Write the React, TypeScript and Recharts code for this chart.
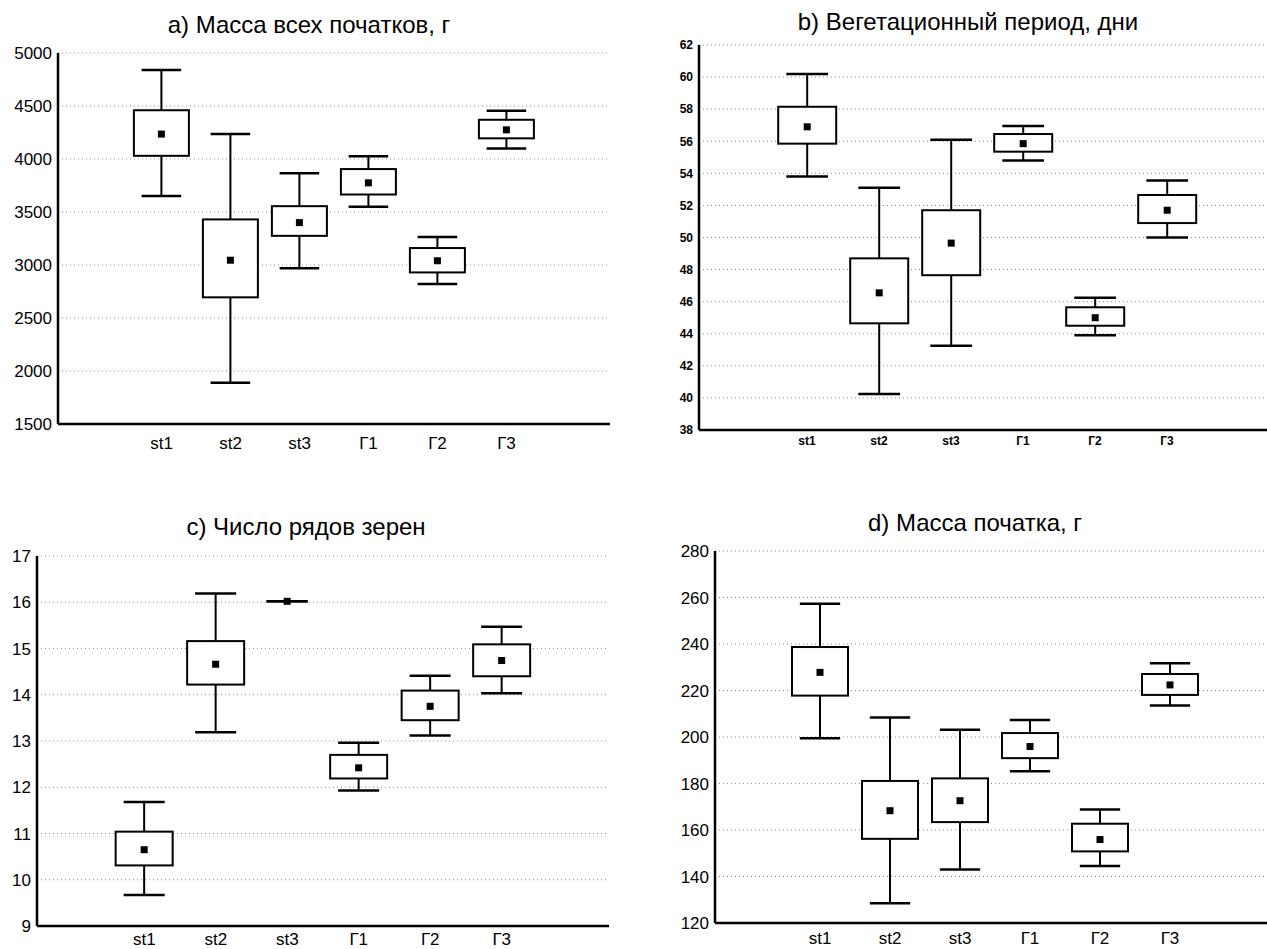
import React from "react";
import { Bar, CartesianGrid, ComposedChart, XAxis, YAxis } from "recharts";

const CATEGORIES = ["st1", "st2", "st3", "Г1", "Г2", "Г3"];

// a) Масса всех початков, г
const A_MIN = [3650, 1890, 2970, 3550, 2820, 4100];
const A_Q1 = [4030, 2695, 3275, 3665, 2930, 4195];
const A_MEAN = [4235, 3045, 3400, 3775, 3040, 4275];
const A_Q3 = [4460, 3430, 3555, 3905, 3160, 4370];
const A_MAX = [4840, 4235, 3865, 4025, 3265, 4455];
const A_TICKS = [1500, 2000, 2500, 3000, 3500, 4000, 4500, 5000];

// b) Вегетационный период, дни
const B_MIN = [53.8, 40.25, 43.25, 54.8, 43.9, 50.0];
const B_Q1 = [55.85, 44.65, 47.65, 55.35, 44.5, 50.9];
const B_MEAN = [56.9, 46.55, 49.65, 55.85, 45.0, 51.7];
const B_Q3 = [58.15, 48.7, 51.7, 56.45, 45.65, 52.65];
const B_MAX = [60.2, 53.1, 56.1, 56.95, 46.25, 53.55];
const B_TICKS = [38, 40, 42, 44, 46, 48, 50, 52, 54, 56, 58, 60, 62];

// c) Число рядов зерен
const C_MIN = [9.67, 13.19, 16.02, 11.93, 13.12, 14.03];
const C_Q1 = [10.31, 14.22, 16.02, 12.19, 13.45, 14.4];
const C_MEAN = [10.65, 14.66, 15.98, 12.42, 13.75, 14.74];
const C_Q3 = [11.04, 15.16, 16.02, 12.7, 14.09, 15.09];
const C_MAX = [11.68, 16.19, 16.02, 12.96, 14.41, 15.47];
const C_TICKS = [9, 10, 11, 12, 13, 14, 15, 16, 17];

// d) Масса початка, г
const D_MIN = [199.5, 128.5, 143, 185.3, 144.5, 213.5];
const D_Q1 = [217.8, 156.2, 163.4, 190.9, 150.8, 218.1];
const D_MEAN = [227.8, 168.3, 172.6, 195.9, 155.9, 222.4];
const D_Q3 = [238.7, 181.1, 182.2, 201.7, 162.7, 227.1];
const D_MAX = [257.3, 208.4, 203.1, 207.3, 168.8, 231.7];
const D_TICKS = [120, 140, 160, 180, 200, 220, 240, 260, 280];

const FONT = "'Liberation Sans', Arial, sans-serif";

type Row = {
  name: string;
  min: number | null;
  q1: number | null;
  mean: number | null;
  q3: number | null;
  max: number | null;
};

// empty slot on each side, like the original axis
function buildRows(mn: number[], q1: number[], mean: number[], q3: number[], mx: number[]): Row[] {
  const empty = { min: null, q1: null, mean: null, q3: null, max: null };
  return [
    { name: "pad-l", ...empty },
    ...CATEGORIES.map((name, i) => ({ name, min: mn[i], q1: q1[i], mean: mean[i], q3: q3[i], max: mx[i] })),
    { name: "pad-r", ...empty },
  ];
}

function BoxShape(props: any) {
  const { x, y, width, height, payload } = props;
  if (payload == null || payload.max == null) return null;
  const top = Math.min(y, y + height);
  const bottom = Math.max(y, y + height);
  const span = payload.max - payload.min;
  const py = (v: number) => (span === 0 ? top : bottom - ((v - payload.min) / span) * (bottom - top));
  const cx = x + width / 2;
  const cap = width * 0.36;
  const yQ3 = py(payload.q3);
  const yQ1 = py(payload.q1);
  const yMean = py(payload.mean);
  return (
    <g>
      <line x1={cx} x2={cx} y1={top} y2={bottom} stroke="#000" strokeWidth={2} />
      <line x1={cx - cap} x2={cx + cap} y1={top} y2={top} stroke="#000" strokeWidth={2.5} />
      <line x1={cx - cap} x2={cx + cap} y1={bottom} y2={bottom} stroke="#000" strokeWidth={2.5} />
      <rect x={x} y={yQ3} width={width} height={Math.max(yQ1 - yQ3, 0)} fill="#fff" stroke="#000" strokeWidth={2} />
      <rect x={cx - 3.5} y={yMean - 3.5} width={7} height={7} fill="#000" />
    </g>
  );
}

type PanelProps = {
  title: string;
  rows: Row[];
  ticks: number[];
  plotL: number;
  plotR: number;
  plotT: number;
  plotB: number;
  titleX: number;
  titleY: number;
  tickFont: number;
  tickWeight?: number;
  xTickMargin: number;
};

function Panel(p: PanelProps) {
  const axisW = 70;
  const marginTop = 10;
  const xAxisH = 40;
  const width = p.plotR - p.plotL + axisW + 10;
  const height = p.plotB - p.plotT + marginTop + xAxisH;
  const tick = { fontSize: p.tickFont, fontFamily: FONT, fill: "#000", fontWeight: p.tickWeight ?? 400 };
  return (
    <>
      <div
        style={{
          position: "absolute",
          left: p.titleX - 300,
          width: 600,
          top: p.titleY - 15,
          textAlign: "center",
          fontFamily: FONT,
          fontSize: 24,
          lineHeight: "30px",
          color: "#000",
        }}
      >
        {p.title}
      </div>
      <div style={{ position: "absolute", left: p.plotL - axisW, top: p.plotT - marginTop }}>
        <ComposedChart
          width={width}
          height={height}
          data={p.rows}
          margin={{ top: marginTop, right: 10, bottom: 0, left: 0 }}
          barCategoryGap="10%"
        >
          <CartesianGrid horizontal vertical={false} stroke="#8a8a8a" strokeDasharray="1 3" />
          <XAxis
            dataKey="name"
            interval={0}
            tickLine={false}
            tickSize={6}
            tickMargin={p.xTickMargin}
            axisLine={{ stroke: "#000", strokeWidth: 2.5 }}
            tick={tick}
            height={xAxisH}
            tickFormatter={(v) => (String(v).startsWith("pad") ? "" : v)}
          />
          <XAxis xAxisId="top" dataKey="name" orientation="top" height={0} tick={false} tickLine={false} axisLine={{ stroke: "#000", strokeWidth: 2 }} />
          <YAxis
            type="number"
            domain={[p.ticks[0], p.ticks[p.ticks.length - 1]]}
            ticks={p.ticks}
            interval={0}
            width={axisW}
            tickLine={false}
            tickSize={4}
            tickMargin={2}
            axisLine={{ stroke: "#000", strokeWidth: 2.5 }}
            tick={tick}
          />
          <YAxis yAxisId="right" orientation="right" width={0} tick={false} tickLine={false} axisLine={{ stroke: "#000", strokeWidth: 2 }} />
          <Bar
            dataKey={(d: Row) => (d.max == null ? null : [d.min, d.max])}
            shape={<BoxShape />}
            isAnimationActive={false}
          />
        </ComposedChart>
      </div>
    </>
  );
}

export default function App() {
  return (
    <div
      style={{
        position: "fixed",
        left: 0,
        top: 0,
        width: 1267,
        height: 949,
        overflow: "hidden",
        background: "#fff",
      }}
    >
      <Panel
        title="a) Масса всех початков, г"
        rows={buildRows(A_MIN, A_Q1, A_MEAN, A_Q3, A_MAX)}
        ticks={A_TICKS}
        plotL={58}
        plotR={610}
        plotT={53}
        plotB={424}
        titleX={309}
        titleY={25}
        tickFont={17}
        xTickMargin={7}
      />
      <Panel
        title="b) Вегетационный период, дни"
        rows={buildRows(B_MIN, B_Q1, B_MEAN, B_Q3, B_MAX)}
        ticks={B_TICKS}
        plotL={699}
        plotR={1275}
        plotT={45}
        plotB={430}
        titleX={968}
        titleY={22}
        tickFont={12}
        tickWeight={700}
        xTickMargin={0}
      />
      <Panel
        title="c) Число рядов зерен"
        rows={buildRows(C_MIN, C_Q1, C_MEAN, C_Q3, C_MAX)}
        ticks={C_TICKS}
        plotL={37}
        plotR={609}
        plotT={556}
        plotB={926}
        titleX={306}
        titleY={527}
        tickFont={17}
        xTickMargin={1}
      />
      <Panel
        title="d) Масса початка, г"
        rows={buildRows(D_MIN, D_Q1, D_MEAN, D_Q3, D_MAX)}
        ticks={D_TICKS}
        plotL={715}
        plotR={1275}
        plotT={551}
        plotB={923}
        titleX={975}
        titleY={523}
        tickFont={17}
        xTickMargin={3}
      />
    </div>
  );
}
